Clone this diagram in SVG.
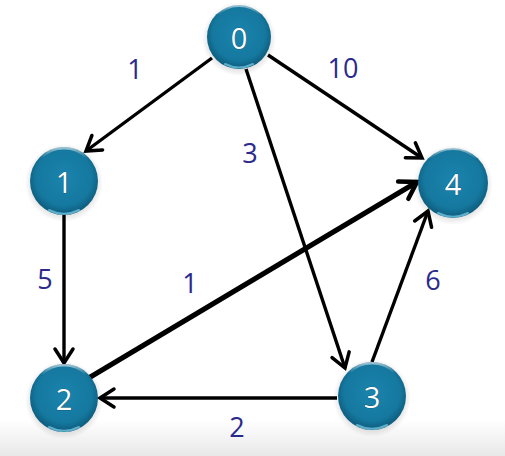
<svg xmlns="http://www.w3.org/2000/svg" width="505" height="456" viewBox="0 0 505 456">
  <defs>
    <linearGradient id="floor" x1="0" y1="0" x2="0" y2="1">
      <stop offset="0" stop-color="#ffffff"/>
      <stop offset="0.92" stop-color="#ffffff"/>
      <stop offset="1" stop-color="#e8e8e8"/>
    </linearGradient>
    <radialGradient id="ball" cx="0.5" cy="0.45" r="0.55">
      <stop offset="0" stop-color="#1a84ad"/>
      <stop offset="0.75" stop-color="#15789f"/>
      <stop offset="1" stop-color="#0d5a7a"/>
    </radialGradient>
    <linearGradient id="rim" x1="0" y1="0" x2="0" y2="1">
      <stop offset="0" stop-color="#ffffff" stop-opacity="0.55"/>
      <stop offset="1" stop-color="#ffffff" stop-opacity="0"/>
    </linearGradient>
    <radialGradient id="shade" cx="0.5" cy="0.5" r="0.5">
      <stop offset="0.8" stop-color="#000" stop-opacity="0.12"/>
      <stop offset="1" stop-color="#000" stop-opacity="0"/>
    </radialGradient>
    <marker id="arrow" markerUnits="userSpaceOnUse" markerWidth="30" markerHeight="30" refX="0" refY="0" viewBox="-20 -15 30 30" orient="auto" overflow="visible">
      <path d="M-14,-9 L0,0 L-14,9" fill="none" stroke="#000" stroke-width="3.5" stroke-linecap="round" stroke-linejoin="miter"/>
    </marker>
    <marker id="arrow-bold" markerUnits="userSpaceOnUse" markerWidth="34" markerHeight="34" refX="0" refY="0" viewBox="-22 -17 34 34" orient="auto" overflow="visible">
      <path d="M-16,-10 L0,0 L-16,10" fill="none" stroke="#000" stroke-width="4.5" stroke-linecap="round" stroke-linejoin="miter"/>
    </marker>
  </defs>
  <style>
    .edge { fill: none; stroke: #000; stroke-width: 3.4; marker-end: url(#arrow); }
    .edge.bold { stroke-width: 5; marker-end: url(#arrow-bold); }
    .weight { font-family: "Open Sans", "Noto Sans", sans-serif; font-size: 27px; fill: #2b2a8c; text-anchor: middle; dominant-baseline: central; }
    .disc { fill: url(#ball); }
    .gloss { fill: none; stroke: url(#rim); stroke-width: 2.5; }
    .glint { fill: none; stroke: #7fd0ea; stroke-width: 2; stroke-opacity: 0.7; stroke-linecap: round; }
    .halo { fill: url(#shade); }
    .label { font-family: "Open Sans", "Noto Sans", sans-serif; font-size: 29px; fill: #ffffff; text-anchor: middle; dominant-baseline: central; stroke: #0b4a66; stroke-width: 0.6; paint-order: stroke; }
  </style>

  <rect x="0" y="0" width="505" height="456" fill="url(#floor)"/>

  <g id="connectors">
    <line class="edge" x1="212" y1="58" x2="86" y2="151"/>
    <line class="edge" x1="268" y1="55" x2="422" y2="158"/>
    <line class="edge" x1="246" y1="69" x2="345" y2="368"/>
    <line class="edge" x1="64" y1="215" x2="64" y2="363"/>
    <line class="edge bold" x1="87" y1="379" x2="417" y2="182"/>
    <line class="edge" x1="372" y1="362" x2="428" y2="211"/>
    <line class="edge" x1="337" y1="398" x2="100" y2="398"/>
  </g>

  <g id="weights">
    <text class="weight" x="135" y="68">1</text>
    <text class="weight" x="343" y="67">10</text>
    <text class="weight" x="250" y="152">3</text>
    <text class="weight" x="45" y="278">5</text>
    <text class="weight" x="190" y="282">1</text>
    <text class="weight" x="433" y="279">6</text>
    <text class="weight" x="237" y="426">2</text>
  </g>

  <g id="node-0" transform="translate(239,37)">
    <circle class="halo" r="37" cy="2"/>
    <circle class="disc" r="32"/>
    <path class="gloss" d="M-22,-22 A31,31 0 0 1 22,-22"/>
    <path class="glint" d="M-14,27 A31,31 0 0 0 14,27"/>
    <text class="label" x="0" y="0">0</text>
  </g>

  <g id="node-1" transform="translate(64,181)">
    <circle class="halo" r="39" cy="2"/>
    <circle class="disc" r="34"/>
    <path class="gloss" d="M-23,-23 A32,32 0 0 1 23,-23"/>
    <path class="glint" d="M-15,29 A33,33 0 0 0 15,29"/>
    <text class="label" x="0" y="0">1</text>
  </g>

  <g id="node-2" transform="translate(64,398)">
    <circle class="halo" r="39" cy="2"/>
    <circle class="disc" r="34"/>
    <path class="gloss" d="M-23,-23 A32,32 0 0 1 23,-23"/>
    <path class="glint" d="M-15,29 A33,33 0 0 0 15,29"/>
    <text class="label" x="0" y="0">2</text>
  </g>

  <g id="node-3" transform="translate(372,396)">
    <circle class="halo" r="39" cy="2"/>
    <circle class="disc" r="34"/>
    <path class="gloss" d="M-23,-23 A32,32 0 0 1 23,-23"/>
    <path class="glint" d="M-15,29 A33,33 0 0 0 15,29"/>
    <text class="label" x="0" y="0">3</text>
  </g>

  <g id="node-4" transform="translate(453,183)">
    <circle class="halo" r="40" cy="2"/>
    <circle class="disc" r="35"/>
    <path class="gloss" d="M-24,-24 A33,33 0 0 1 24,-24"/>
    <path class="glint" d="M-15,30 A34,34 0 0 0 15,30"/>
    <text class="label" x="0" y="0">4</text>
  </g>
</svg>
